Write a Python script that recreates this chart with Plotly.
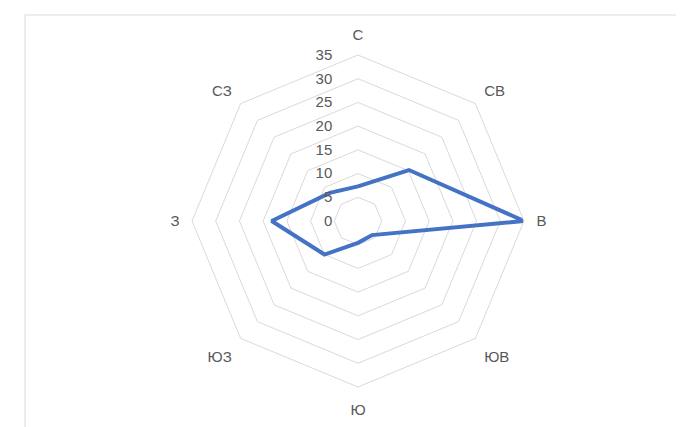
import plotly.graph_objects as go

directions = ["С", "СВ", "В", "ЮВ", "Ю", "ЮЗ", "З", "СЗ"]
values = [7.3, 15.2, 35, 4.2, 4.6, 10, 18.2, 8.4]
radial_ticks = [0, 5, 10, 15, 20, 25, 30, 35]

W, H = 684, 427
cx, cy, R = 350, 213, 166

fig = go.Figure()
fig.add_trace(go.Scatterpolar(
    r=values + [values[0]],
    theta=directions + [directions[0]],
    mode="lines",
    line=dict(color="#4472C4", width=4),
    hoverinfo="skip",
    showlegend=False,
))

fig.update_layout(
    width=W, height=H,
    margin=dict(l=0, r=0, t=0, b=0),
    paper_bgcolor="white",
    plot_bgcolor="white",
    font=dict(family="Liberation Sans, Arial, sans-serif", size=15, color="#595959"),
    polar=dict(
        domain=dict(x=[(cx - R) / W, (cx + R) / W], y=[1 - (cy + R) / H, 1 - (cy - R) / H]),
        gridshape="linear",
        bgcolor="white",
        radialaxis=dict(
            range=[0, 35],
            tickvals=radial_ticks,
            ticktext=[str(t) for t in radial_ticks],
            angle=90,
            tickangle=90,
            side="counterclockwise",
            showline=False,
            ticks="outside",
            ticklen=20,
            tickcolor="rgba(0,0,0,0)",
            gridcolor="#D9D9D9",
            gridwidth=1,
            tickfont=dict(size=15, color="#595959"),
        ),
        angularaxis=dict(
            categoryarray=directions,
            direction="clockwise",
            rotation=90,
            showgrid=False,
            showline=True,
            linecolor="#D9D9D9",
            linewidth=1,
            ticks="outside",
            ticklen=9,
            tickcolor="rgba(0,0,0,0)",
            tickfont=dict(size=15, color="#595959"),
        ),
    ),
    shapes=[dict(
        type="rect", xref="paper", yref="paper",
        x0=17 / W, x1=1.05, y0=-0.05, y1=1 - 7 / H,
        line=dict(color="#D9D9D9", width=1),
    )],
)

fig.write_html("out.html")
